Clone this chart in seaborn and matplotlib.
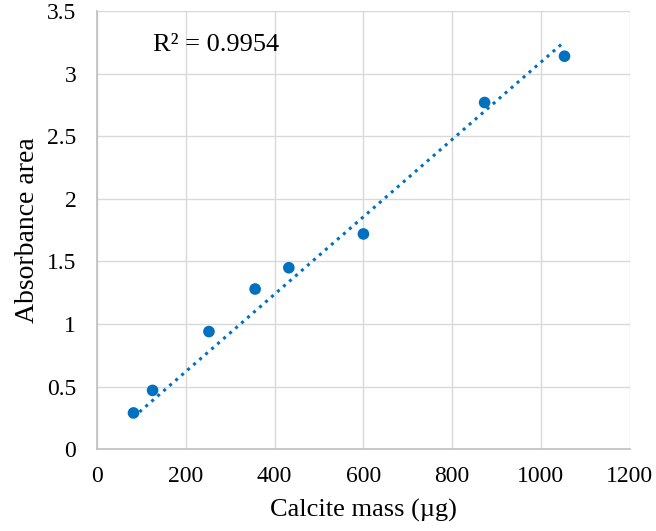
import matplotlib
matplotlib.use('Agg')
import matplotlib.pyplot as plt
import numpy as np
import pandas as pd
import seaborn as sns

# Calibration data
calcite_mass = [82, 125, 252, 356, 432, 600, 873, 1053]
absorbance_area = [0.29, 0.47, 0.94, 1.28, 1.45, 1.72, 2.77, 3.14]
# trendline as drawn in the chart (slope / intercept)
trend_slope = 0.00309
trend_intercept = 0.003
r2_label = 'R² = 0.9954'

blue = '#0070C0'

df = pd.DataFrame({'mass': calcite_mass, 'area': absorbance_area})

sns.set_theme(style='whitegrid')
plt.rcParams['font.family'] = ['Liberation Serif', 'DejaVu Serif']

fig = plt.figure(figsize=(6.56, 5.31), dpi=100)
ax = fig.add_axes([0.148, 0.154, 0.812, 0.825])

# dotted linear trendline over the data range
xs = np.array([df['mass'].min(), df['mass'].max()])
ax.plot(xs, trend_slope * xs + trend_intercept, color=blue,
        linestyle=(0, (1, 1.6)), linewidth=2.2, zorder=2)

sns.scatterplot(data=df, x='mass', y='area', ax=ax, color=blue, s=70,
                edgecolor='none', zorder=3)

ax.set_xlim(0, 1200)
ax.set_ylim(0, 3.5)
ax.set_xticks(np.arange(0, 1201, 200))
ax.set_yticks(np.arange(0, 3.51, 0.5))
ax.set_yticklabels(['0', '0.5', '1', '1.5', '2', '2.5', '3', '3.5'])

ax.grid(True, color='#D9D9D9', linewidth=1)
for side in ['top', 'right']:
    ax.spines[side].set_visible(False)
for side in ['left', 'bottom']:
    ax.spines[side].set_color('#BFBFBF')
    ax.spines[side].set_linewidth(1.2)
ax.tick_params(axis='y', length=0, labelsize=17, colors='black', pad=15)
ax.tick_params(axis='x', length=0, labelsize=17, colors='black', pad=12)

ax.set_xlabel('Calcite mass (µg)', fontsize=19, color='black', labelpad=9)
ax.set_ylabel('Absorbance area', fontsize=20, color='black', labelpad=5)

ax.text(0.105, 0.91, r2_label, transform=ax.transAxes, fontsize=19, color='black')

plt.savefig('out.png', dpi=100)
